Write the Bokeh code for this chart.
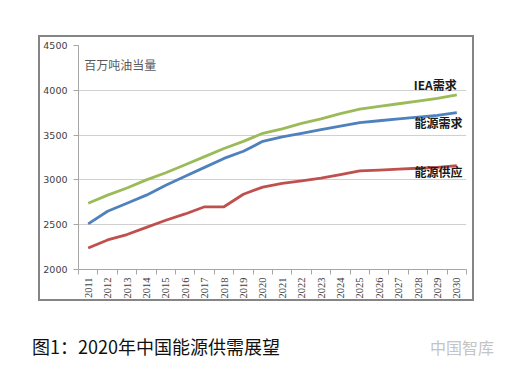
import math
from bokeh.plotting import figure
from bokeh.models import Range1d, FixedTicker, Label, Div
from bokeh.layouts import column, row
from bokeh.embed import file_html
from bokeh.resources import INLINE

years = list(range(2011, 2031))
iea_demand = [2740, 2830, 2910, 3000, 3080, 3170, 3260, 3350, 3430, 3520,
              3570, 3630, 3680, 3740, 3790, 3820, 3850, 3880, 3910, 3950]
energy_demand = [2510, 2650, 2740, 2830, 2940, 3040, 3140, 3240, 3320, 3430,
                 3480, 3520, 3560, 3600, 3640, 3660, 3680, 3700, 3720, 3750]
energy_supply = [2240, 2330, 2390, 2470, 2550, 2620, 2700, 2700, 2840, 2920,
                 2960, 2990, 3020, 3060, 3100, 3110, 3120, 3130, 3140, 3160]
y_ticks = [2000, 2500, 3000, 3500, 4000, 4500]

p = figure(width=436, height=266, output_backend="svg", toolbar_location=None,
           x_range=Range1d(2010.5, 2030.5), y_range=Range1d(2000, 4500),
           min_border_left=37, min_border_right=10, min_border_top=8,
           min_border_bottom=34, sizing_mode="fixed", align="start")
p.margin = (35, 0, 0, 38)
p.styles = {"border": "2px solid #858585"}
p.outline_line_color = None
p.background_fill_color = "white"
p.border_fill_color = "white"

# axes
p.xaxis.ticker = FixedTicker(ticks=years, minor_ticks=[y - 0.5 for y in years] + [2030.5])
p.xaxis.major_tick_line_color = None
p.xaxis.major_tick_out = 5
p.xaxis.minor_tick_out = 5
p.xaxis.minor_tick_in = 0
p.xaxis.minor_tick_line_color = "#a6a6a6"
p.xaxis.axis_line_color = "#a6a6a6"
p.xaxis.major_label_orientation = math.pi / 2
p.xaxis.major_label_text_font = "Liberation Serif"
p.xaxis.major_label_text_font_size = "10.5px"
p.xaxis.major_label_text_color = "#404040"
p.xaxis.major_label_standoff = 3

p.yaxis.ticker = FixedTicker(ticks=y_ticks)
p.yaxis.minor_tick_line_color = None
p.yaxis.major_tick_out = 5
p.yaxis.major_tick_in = 0
p.yaxis.major_tick_line_color = "#a6a6a6"
p.yaxis.axis_line_color = "#a6a6a6"
p.yaxis.major_label_text_font = "DejaVu Sans"
p.yaxis.major_label_text_font_size = "9.5px"
p.yaxis.major_label_text_color = "#404040"
p.yaxis.major_label_standoff = 6

p.xgrid.grid_line_color = None
p.ygrid.grid_line_color = "#d0d0d0"
p.ygrid.grid_line_width = 1

p.line(years, iea_demand, line_color="#9bbb59", line_width=2.8)
p.line(years, energy_demand, line_color="#4f81bd", line_width=2.8)
p.line(years, energy_supply, line_color="#c0504d", line_width=2.8)

lab_font = "Noto Sans CJK SC"
p.add_layout(Label(x=2030, y=4065, text="IEA需求", text_align="right",
                   text_baseline="middle", text_font=lab_font, text_font_size="12px",
                   text_font_style="bold", text_color="#1a1a1a"))
p.add_layout(Label(x=2030.3, y=3640, text="能源需求", text_align="right",
                   text_baseline="middle", text_font=lab_font, text_font_size="12px",
                   text_font_style="bold", text_color="#1a1a1a"))
p.add_layout(Label(x=2030.3, y=3094, text="能源供应", text_align="right",
                   text_baseline="middle", text_font=lab_font, text_font_size="12px",
                   text_font_style="bold", text_color="#1a1a1a"))
p.add_layout(Label(x=2010.8, y=4290, text="百万吨油当量", text_align="left",
                   text_baseline="middle", text_font=lab_font, text_font_size="12px",
                   text_color="#595959"))

caption = Div(text="图1：2020年中国能源供需展望", width=300, height=20,
              margin=(35, 0, 0, 32), align="start",
              styles={"font-family": "Noto Sans CJK SC", "font-size": "18px",
                      "color": "#111111", "line-height": "20px",
                      "white-space": "nowrap"})
mark = Div(text="中国智库", width=52, height=20, margin=(36, 0, 0, 98), align="start",
           styles={"font-family": "Noto Sans CJK SC", "font-size": "16px",
                   "color": "#c4c4c4", "line-height": "20px",
                   "white-space": "nowrap"})

layout = column(p, row(caption, mark))
open("out.html", "w").write(file_html(layout, INLINE))
